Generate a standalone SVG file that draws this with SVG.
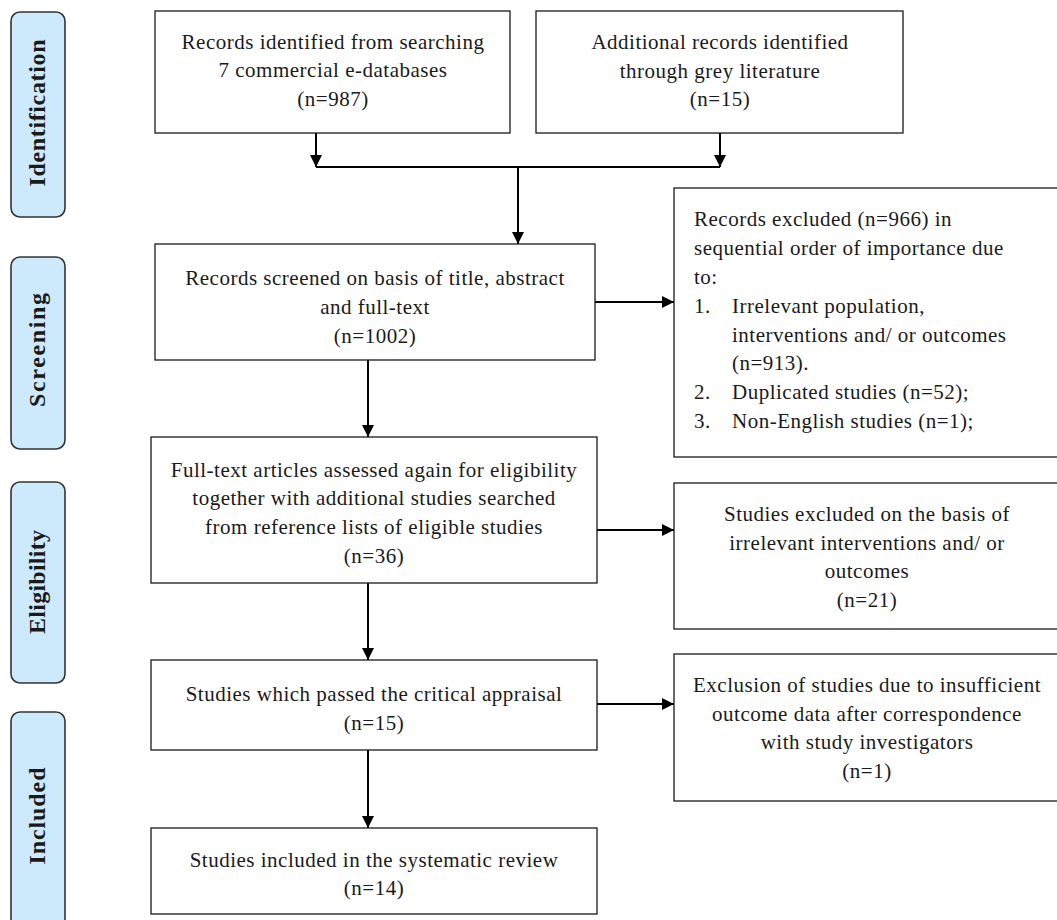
<svg xmlns="http://www.w3.org/2000/svg" width="1057" height="920" viewBox="0 0 1057 920">
  <style>
    .box { fill: #ffffff; stroke: #1a1a1a; stroke-width: 1.3; }
    .tab { fill: #cdeafc; stroke: #333333; stroke-width: 1.6; }
    .t { font-family: "Liberation Serif", "DejaVu Serif", serif; font-size: 21px; letter-spacing: 0.5px; fill: #1a1a1a; }
    .c { text-anchor: middle; }
    .tabt { font-family: "Liberation Serif", "DejaVu Serif", serif; font-size: 24px; font-weight: bold; fill: #1a1a1a; text-anchor: middle; }
    .ln { fill: none; stroke: #000000; stroke-width: 2; }
  </style>
  <defs>
    <marker id="arr" viewBox="0 0 10 10" refX="10" refY="5" markerWidth="6" markerHeight="6" markerUnits="strokeWidth" orient="auto">
      <path d="M0,0 L10,5 L0,10 z" fill="#000000"/>
    </marker>
  </defs>
  <rect width="1057" height="920" fill="#ffffff"/>

  <!-- phase tabs -->
  <g id="tab-identification">
    <rect class="tab" x="11" y="12" width="54" height="205" rx="9"/>
    <text class="tabt" transform="translate(45,113) rotate(-90)" textLength="147" lengthAdjust="spacing">Identification</text>
  </g>
  <g id="tab-screening">
    <rect class="tab" x="11" y="257" width="54" height="192" rx="9"/>
    <text class="tabt" transform="translate(45,350) rotate(-90)" textLength="114" lengthAdjust="spacing">Screening</text>
  </g>
  <g id="tab-eligibility">
    <rect class="tab" x="11" y="482" width="54" height="201" rx="9"/>
    <text class="tabt" transform="translate(45,582) rotate(-90)" textLength="104" lengthAdjust="spacing">Eligibility</text>
  </g>
  <g id="tab-included">
    <rect class="tab" x="11" y="712" width="54" height="220" rx="9"/>
    <text class="tabt" transform="translate(45,816) rotate(-90)" textLength="97" lengthAdjust="spacing">Included</text>
  </g>

  <!-- connectors -->
  <g id="connectors">
    <path class="ln" d="M316,133 V167" marker-end="url(#arr)"/>
    <path class="ln" d="M720,133 V167" marker-end="url(#arr)"/>
    <path class="ln" d="M316,167 H720"/>
    <path class="ln" d="M518,167 V244" marker-end="url(#arr)"/>
    <path class="ln" d="M595,302 H674" marker-end="url(#arr)"/>
    <path class="ln" d="M368,360 V437" marker-end="url(#arr)"/>
    <path class="ln" d="M597,530 H674" marker-end="url(#arr)"/>
    <path class="ln" d="M368,583 V660" marker-end="url(#arr)"/>
    <path class="ln" d="M597,704 H674" marker-end="url(#arr)"/>
    <path class="ln" d="M368,750 V828" marker-end="url(#arr)"/>
  </g>

  <g id="records-databases">
    <rect class="box" x="155" y="11" width="355" height="122"/>
    <text class="t c" x="333" y="49">Records identified from searching</text>
    <text class="t c" x="333" y="77">7 commercial e-databases</text>
    <text class="t c" x="333" y="106">(n=987)</text>
  </g>
  <g id="records-grey">
    <rect class="box" x="536" y="11" width="367" height="122"/>
    <text class="t c" x="720" y="49">Additional records identified</text>
    <text class="t c" x="720" y="78">through grey literature</text>
    <text class="t c" x="720" y="106">(n=15)</text>
  </g>
  <g id="records-screened">
    <rect class="box" x="155" y="244" width="440" height="116"/>
    <text class="t c" x="375" y="285">Records screened on basis of title, abstract</text>
    <text class="t c" x="375" y="314">and full-text</text>
    <text class="t c" x="375" y="343">(n=1002)</text>
  </g>
  <g id="records-excluded">
    <rect class="box" x="674" y="188" width="390" height="269"/>
    <text class="t" x="694" y="226">Records excluded (n=966) in</text>
    <text class="t" x="694" y="255">sequential order of importance due</text>
    <text class="t" x="694" y="284">to:</text>
    <text class="t" x="694" y="313">1.</text>
    <text class="t" x="732" y="313">Irrelevant population,</text>
    <text class="t" x="732" y="342">interventions and/ or outcomes</text>
    <text class="t" x="732" y="370">(n=913).</text>
    <text class="t" x="694" y="399">2.</text>
    <text class="t" x="732" y="399">Duplicated studies (n=52);</text>
    <text class="t" x="694" y="428">3.</text>
    <text class="t" x="732" y="428">Non-English studies (n=1);</text>
  </g>
  <g id="fulltext-assessed">
    <rect class="box" x="151" y="437" width="446" height="146"/>
    <text class="t c" x="374" y="477">Full-text articles assessed again for eligibility</text>
    <text class="t c" x="374" y="505">together with additional studies searched</text>
    <text class="t c" x="374" y="534">from reference lists of eligible studies</text>
    <text class="t c" x="374" y="563">(n=36)</text>
  </g>
  <g id="studies-excluded">
    <rect class="box" x="674" y="483" width="390" height="146"/>
    <text class="t c" x="867" y="521">Studies excluded on the basis of</text>
    <text class="t c" x="867" y="550">irrelevant interventions and/ or</text>
    <text class="t c" x="867" y="578">outcomes</text>
    <text class="t c" x="867" y="607">(n=21)</text>
  </g>
  <g id="critical-appraisal">
    <rect class="box" x="151" y="660" width="446" height="90"/>
    <text class="t c" x="374" y="701">Studies which passed the critical appraisal</text>
    <text class="t c" x="374" y="730">(n=15)</text>
  </g>
  <g id="insufficient-data">
    <rect class="box" x="674" y="654" width="390" height="147"/>
    <text class="t c" x="867" y="692">Exclusion of studies due to insufficient</text>
    <text class="t c" x="867" y="721">outcome data after correspondence</text>
    <text class="t c" x="867" y="749">with study investigators</text>
    <text class="t c" x="867" y="778">(n=1)</text>
  </g>
  <g id="included-review">
    <rect class="box" x="151" y="828" width="446" height="86"/>
    <text class="t c" x="374" y="867">Studies included in the systematic review</text>
    <text class="t c" x="374" y="895">(n=14)</text>
  </g>
</svg>
